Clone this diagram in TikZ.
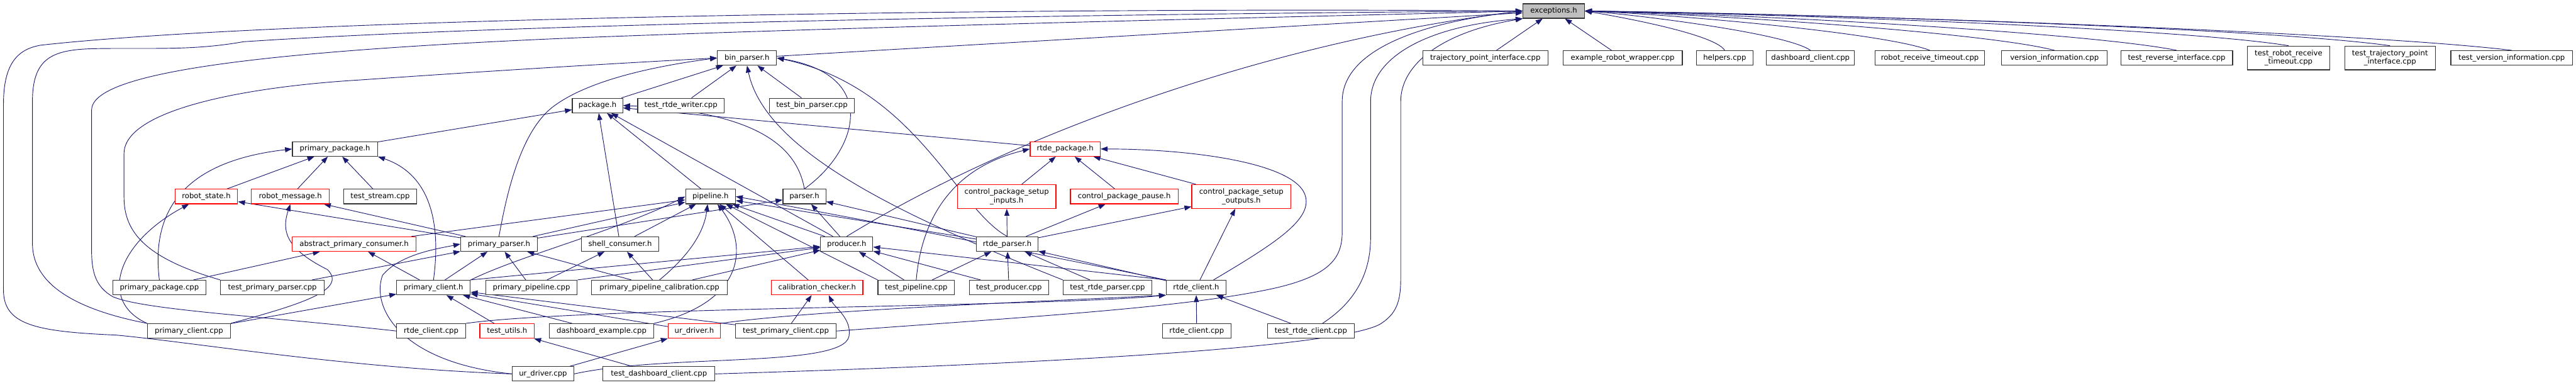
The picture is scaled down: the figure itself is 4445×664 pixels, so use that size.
\documentclass[tikz,border=0pt]{standalone}
\usepackage{fontspec}
\setmainfont{DejaVu Sans}
\usetikzlibrary{arrows.meta,calc,backgrounds}
\definecolor{edgeblue}{RGB}{25,25,112}
\definecolor{boxgrey}{RGB}{191,191,191}
\tikzset{
  >={Triangle[length=9pt,width=6.5pt]},
  file/.style={draw=black!80,fill=white,line width=1pt,minimum width=#1*0.75pt,
    minimum height=18.75pt,inner sep=1pt,align=center,font=\fontsize{9.5}{11}\selectfont},
  file/.default=100,
  redfile/.style={file=#1,draw=red},
  redfile/.default=100,
  tall/.style={minimum height=30.75pt},
  incl/.style={->,draw=edgeblue,line width=0.75pt},
}
\begin{document}
\begin{tikzpicture}[x=0.75pt,y=-0.75pt]
\useasboundingbox (0,0) rectangle (4445,664);
\node[file=106,fill=boxgrey] (exc) at (2681,19) {exceptions.h};
\node[file=102] (binp) at (1289,100) {bin\_parser.h};
\node[file=216] (traj) at (2563,100) {trajectory\_point\_interface.cpp};
\node[file=206] (exrw) at (2800,100) {example\_robot\_wrapper.cpp};
\node[file=98] (help) at (2976,100) {helpers.cpp};
\node[file=152] (dash) at (3124,100) {dashboard\_client.cpp};
\node[file=189] (rrt) at (3330,100) {robot\_receive\_timeout.cpp};
\node[file=182] (vinfo) at (3545,100) {version\_information.cpp};
\node[file=193] (trev) at (3756,100) {test\_reverse\_interface.cpp};
\node[file=142,tall] (trrt) at (3949,100) {test\_robot\_receive\\\_timeout.cpp};
\node[file=156,tall] (ttpi) at (4124,100) {test\_trajectory\_point\\\_interface.cpp};
\node[file=210] (tvi) at (4334,100) {test\_version\_information.cpp};

\node[file=87] (pkg) at (1031,182) {package.h};
\node[file=149] (trw) at (1175,182) {test\_rtde\_writer.cpp};
\node[file=147] (tbp) at (1401,182) {test\_bin\_parser.cpp};

\node[file=147] (ppkg) at (578,257) {primary\_package.h};
\node[redfile=121] (rpkg) at (1838,257) {rtde\_package.h};

\node[redfile=108] (rstate) at (356,339) {robot\_state.h};
\node[redfile=135] (rmsg) at (501,339) {robot\_message.h};
\node[file=126] (tstream) at (656,339) {test\_stream.cpp};
\node[file=86] (pipe) at (1226,339) {pipeline.h};
\node[file=74] (parser) at (1388,339) {parser.h};
\node[redfile=170,tall] (cpsi) at (1737,339) {control\_package\_setup\\\_inputs.h};
\node[redfile=186] (cpause) at (1940,339) {control\_package\_pause.h};
\node[redfile=171,tall] (cpso) at (2142,339) {control\_package\_setup\\\_outputs.h};

\node[redfile=214] (apc) at (611,421) {abstract\_primary\_consumer.h};
\node[file=132] (pparser) at (861,421) {primary\_parser.h};
\node[file=134] (shell) at (1070,421) {shell\_consumer.h};
\node[file=90] (prod) at (1461,421) {producer.h};
\node[file=106] (rparser) at (1738,421) {rtde\_parser.h};

\node[file=161] (ppcpp) at (275,496) {primary\_package.cpp};
\node[file=179] (tpp) at (470,496) {test\_primary\_parser.cpp};
\node[file=127] (pclient) at (748,496) {primary\_client.h};
\node[file=158] (ppipe) at (917,496) {primary\_pipeline.cpp};
\node[file=234] (ppcal) at (1138,496) {primary\_pipeline\_calibration.cpp};
\node[redfile=158] (calib) at (1410,496) {calibration\_checker.h};
\node[file=132] (tpipe) at (1581,496) {test\_pipeline.cpp};
\node[file=137] (tprod) at (1741,496) {test\_producer.cpp};
\node[file=153] (trp) at (1911,496) {test\_rtde\_parser.cpp};
\node[file=103] (rclient) at (2064,496) {rtde\_client.h};

\node[file=143] (pccpp) at (326,571) {primary\_client.cpp};
\node[file=119] (rccppl) at (744,571) {rtde\_client.cpp};
\node[redfile=94] (tutils) at (875,571) {test\_utils.h};
\node[file=180] (dex) at (1038,571) {dashboard\_example.cpp};
\node[redfile=90] (urh) at (1198,571) {ur\_driver.h};
\node[file=174] (tpc) at (1356,571) {test\_primary\_client.cpp};
\node[file=118] (rccppr) at (2065,571) {rtde\_client.cpp};
\node[file=150] (trc) at (2262,571) {test\_rtde\_client.cpp};

\node[file=106] (udcpp) at (937,645) {ur\_driver.cpp};
\node[file=193] (tdc) at (1137,645) {test\_dashboard\_client.cpp};

\begin{scope}[on background layer]
\draw[incl] (traj) -- (exc);
\draw[incl] (exrw) -- (exc);
\foreach \f/\c in {help/60,dash/140,rrt/260,vinfo/380,trev/500,trrt/620,ttpi/720,tvi/820}
  \draw[incl] (\f.north) .. controls +(-\c*0.3,-30) and +(\c*0.6,6) .. (exc.east);
\foreach \a/\b in {binp/exc,pkg/binp,trw/binp,tbp/binp,ppkg/pkg,shell/pkg,pipe/pkg,prod/pkg,
    rpkg/pkg,rstate/ppkg,rmsg/ppkg,tstream/ppkg,cpsi/rpkg,cpause/rpkg,cpso/rpkg,
    pparser/rstate,pparser/rmsg,pparser/pipe,pparser/parser,apc/pipe,shell/pipe,prod/pipe,
    prod/parser,rparser/pipe,rparser/parser,rparser/cpsi,rparser/cpause,rparser/cpso,
    ppcpp/apc,tpp/pparser,pclient/apc,pclient/pparser,pclient.north east/prod,ppipe/pparser,
    ppipe/shell,ppipe.north east/prod,ppcal/pparser,ppcal/shell,ppcal/prod,calib/pipe,
    tpipe.north west/pipe,tpipe/prod,tpipe/rparser,tprod/prod,tprod/rparser,trp/rparser,
    rclient.north west/prod,rclient/rparser,rclient/cpso,pccpp/pclient,tutils/pclient,
    dex/pclient,urh/pclient,tpc/pclient,tpc/calib,rccppr/rclient,trc/rclient,udcpp/urh,
    tdc/tutils}
  \draw[incl] (\a) -- (\b);
\draw[incl] (rclient.north west) .. controls (1800,440) and (1500,380) .. (pipe.east);
\draw[incl] (rccppl.north east) .. controls (1000,530) and (1800,530) .. (rclient.south west);
\draw[incl] (urh.north east) .. controls (1400,535) and (1800,520) .. (rclient.south west);
% long routes round the left side
\draw[incl] (udcpp.west) .. controls (600,635) and (330,590) .. (200,578)
  .. controls (60,572) and (6,560) .. (6,500) -- (6,180) .. controls (6,110) and (30,85) .. (70,78)
  .. controls (500,30) and (1800,12) .. (exc.west);
\draw[incl] (pccpp.north west) .. controls (110,530) and (56,480) .. (56,420) -- (56,175)
  .. controls (56,100) and (90,86) .. (160,84) .. controls (260,82) and (330,88) .. (420,72)
  .. controls (900,40) and (1900,24) .. (exc.west);
\draw[incl] (rccppl.west) .. controls (450,545) and (250,535) .. (195,512)
  .. controls (165,495) and (158,470) .. (158,430) -- (158,190)
  .. controls (158,130) and (400,90) .. (1000,65) .. controls (1600,42) and (2300,28) .. (exc.west);
\draw[incl] (tpp.north west) .. controls (250,445) and (214,400) .. (214,340) -- (214,265)
  .. controls (214,190) and (420,150) .. (620,138) .. controls (850,122) and (1050,110) .. (binp.west);
% long routes round the right side
\draw[incl] (tpc.east) .. controls (1800,545) and (2050,530) .. (2200,497)
  .. controls (2295,475) and (2316,445) .. (2316,400) -- (2316,175)
  .. controls (2316,90) and (2440,40) .. (exc.west);
\draw[incl] ($(trc.north)+(20,0)$) .. controls (2340,520) and (2365,470) .. (2365,410) -- (2365,175)
  .. controls (2365,100) and (2460,45) .. (exc.south west);
\draw[incl] (tdc.east) .. controls (1800,628) and (2300,600) .. (2380,560)
  .. controls (2410,542) and (2417,520) .. (2417,480) -- (2417,175)
  .. controls (2417,110) and (2490,55) .. (exc.south west);
\draw[incl] (prod.north) .. controls (1750,230) and (2200,70) .. (exc.west);
\draw[incl] ($(rclient.north)+(30,0)$) .. controls (2200,420) and (2262,380) .. (2253,340)
  .. controls (2240,280) and (2050,257) .. (rpkg.east);
% bent ones in the middle
\draw[incl] (pparser.north) .. controls (875,330) and (900,220) .. (960,180)
  .. controls (1010,145) and (1100,118) .. (binp.west);
\draw[incl] (parser.north) .. controls (1480,260) and (1520,130) .. (binp.east);
\draw[incl] (rparser.north) .. controls (1650,360) and (1580,150) .. (binp.east);
\draw[incl] (trp.north west) .. controls (1550,370) and (1320,260) .. (binp.south);
\draw[incl] (parser.north) .. controls (1375,250) and (1300,192) .. (pkg.east);
\draw[incl] (tpipe.north) .. controls (1590,380) and (1640,290) .. (rpkg.west);
\draw[incl] (pclient.north) .. controls (762,380) and (740,300) .. (ppkg.south east);
\draw[incl] (ppcpp.north) .. controls (262,380) and (300,280) .. (ppkg.west);
\draw[incl] (pccpp.north west) .. controls (170,520) and (200,420) .. ($(rstate.south)+(-30,0)$);
\draw[incl] (pccpp.north east) .. controls (520,525) and (600,500) .. (565,465)
  .. controls (495,430) and (485,400) .. (rmsg.south);
\draw[incl] (udcpp.west) .. controls (690,625) and (640,530) .. (660,475)
  .. controls (690,438) and (760,428) .. (pparser.west);
\draw[incl] (udcpp.east) .. controls (1150,610) and (1455,635) .. (1465,580)
  .. controls (1470,550) and (1440,530) .. ($(calib.south)+(20,0)$);
\draw[incl] (dex.north east) .. controls (1290,520) and (1290,420) .. ($(pipe.south)+(12,0)$);
\draw[incl] (ppcal.north) .. controls (1190,440) and (1215,400) .. ($(pipe.south)+(-5,0)$);
\draw[incl] (pclient.north east) .. controls (900,440) and (1060,400) .. (pipe.west);
\end{scope}
\end{tikzpicture}
\end{document}
